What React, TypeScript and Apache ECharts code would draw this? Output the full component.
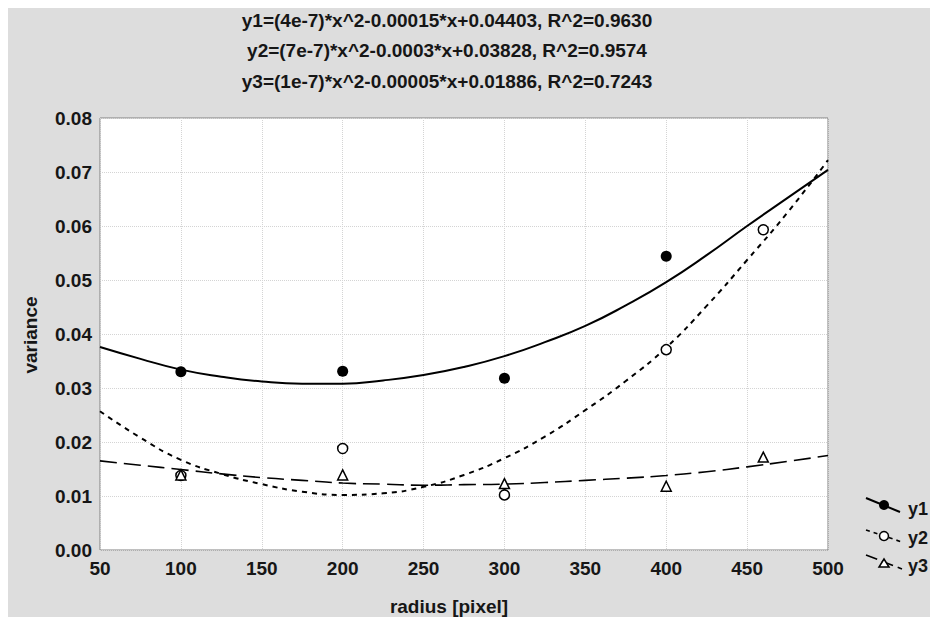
import React, { useEffect, useRef } from "react";
import * as echarts from "echarts";

// Fitted curves (x = 50..500, every 25)
const curveX = [50, 75, 100, 125, 150, 175, 200, 225, 250, 275, 300, 325, 350, 375, 400, 425, 450, 475, 500];
const fit1 = [0.0376, 0.0354, 0.0334, 0.0321, 0.0312, 0.0308, 0.0308, 0.0314, 0.0324, 0.0339, 0.0359, 0.0385, 0.0415, 0.0453, 0.0496, 0.0546, 0.06, 0.0652, 0.0704];
const fit2 = [0.0257, 0.0208, 0.0167, 0.0141, 0.0122, 0.0108, 0.0102, 0.0105, 0.0117, 0.0139, 0.017, 0.021, 0.0259, 0.0313, 0.0375, 0.0452, 0.0537, 0.0625, 0.0722];
const fit3 = [0.0165, 0.0157, 0.0149, 0.0141, 0.0134, 0.0129, 0.0124, 0.0122, 0.012, 0.0121, 0.0122, 0.0125, 0.0129, 0.0133, 0.0138, 0.0145, 0.0154, 0.0164, 0.0175];

// Measured points
const p1x = [100, 200, 300, 400];
const p1y = [0.033, 0.0331, 0.0318, 0.0544];
const p2x = [100, 200, 300, 400, 460];
const p2y = [0.0138, 0.0188, 0.0102, 0.0371, 0.0593];
const p3x = [100, 200, 300, 400, 460];
const p3y = [0.0139, 0.0139, 0.0123, 0.0118, 0.0172];

const titleLines = [
  "y1=(4e-7)*x^2-0.00015*x+0.04403, R^2=0.9630",
  "y2=(7e-7)*x^2-0.0003*x+0.03828, R^2=0.9574",
  "y3=(1e-7)*x^2-0.00005*x+0.01886, R^2=0.7243",
];
const seriesNames = ["y1", "y2", "y3"];
const xName = "radius [pixel]";
const yName = "variance";

const FONT = "Liberation Sans, Arial, sans-serif";
const TXT = "#161616";

const zip = (xs: number[], ys: number[]) => xs.map((x, i) => [x, ys[i]]);

export default function App() {
  const ref = useRef<HTMLDivElement>(null);
  useEffect(() => {
    if (!ref.current) return;
    document.documentElement.style.overflow = "hidden";
    document.body.style.overflow = "hidden";
    const chart = echarts.init(ref.current, undefined, { renderer: "svg" });
    const lineBase = { type: "line", smooth: true, showSymbol: false, silent: true, z: 2 };
    const legendFont = `bold 18px ${FONT}`;
    const option: any = {
      animation: false,
      backgroundColor: "#dddddd",
      grid: {
        left: 92,
        right: 110,
        top: 110,
        bottom: 67,
        show: true,
        backgroundColor: "#ffffff",
        borderColor: "#808080",
        borderWidth: 1,
      },
      xAxis: {
        type: "value",
        min: 50,
        max: 500,
        interval: 50,
        axisLine: { show: false },
        axisTick: { show: false },
        axisLabel: { color: TXT, fontFamily: FONT, fontSize: 19, fontWeight: "bold", margin: 9 },
        splitLine: { show: true, lineStyle: { color: "#d4d4d4", type: "dotted", width: 1 } },
      },
      yAxis: {
        type: "value",
        min: 0,
        max: 0.08,
        interval: 0.01,
        axisLine: { show: false },
        axisTick: { show: false },
        axisLabel: {
          color: TXT,
          fontFamily: FONT,
          fontSize: 19,
          fontWeight: "bold",
          margin: 8,
          formatter: (v: number) => v.toFixed(2),
        },
        splitLine: { show: true, lineStyle: { color: "#d4d4d4", type: "dotted", width: 1 } },
      },
      graphic: [
        ...titleLines.map((t, i) => ({
          type: "text",
          x: 439,
          y: 12 + i * 30.5,
          style: {
            text: t,
            fill: TXT,
            font: `bold 19px ${FONT}`,
            textAlign: "center",
            textVerticalAlign: "middle",
          },
        })),
        {
          type: "text",
          x: 441,
          y: 598,
          style: { text: xName, fill: TXT, font: `bold 19px ${FONT}`, textAlign: "center", textVerticalAlign: "middle" },
        },
        {
          type: "text",
          x: 22,
          y: 327,
          rotation: Math.PI / 2,
          style: { text: yName, fill: TXT, font: `bold 19px ${FONT}`, textAlign: "center", textVerticalAlign: "middle" },
        },
        // legend
        { type: "line", shape: { x1: 858, y1: 490, x2: 892, y2: 504 }, style: { stroke: "#000", lineWidth: 2 } },
        { type: "circle", shape: { cx: 876, cy: 497, r: 5 }, style: { fill: "#000" } },
        { type: "text", x: 900, y: 501, style: { text: seriesNames[0], fill: TXT, font: legendFont, textVerticalAlign: "middle" } },
        { type: "line", shape: { x1: 858, y1: 522, x2: 894, y2: 534 }, style: { stroke: "#000", lineWidth: 1.6, lineDash: [4, 4] } },
        { type: "circle", shape: { cx: 876, cy: 528, r: 4.5 }, style: { fill: "#fff", stroke: "#000", lineWidth: 1.5 } },
        { type: "text", x: 900, y: 530, style: { text: seriesNames[1], fill: TXT, font: legendFont, textVerticalAlign: "middle" } },
        { type: "line", shape: { x1: 858, y1: 547, x2: 894, y2: 561 }, style: { stroke: "#000", lineWidth: 1.6, lineDash: [12, 5] } },
        {
          type: "polygon",
          shape: { points: [[876, 551], [881, 559], [871, 559]] },
          style: { fill: "#fff", stroke: "#000", lineWidth: 1.5 },
        },
        { type: "text", x: 900, y: 558, style: { text: seriesNames[2], fill: TXT, font: legendFont, textVerticalAlign: "middle" } },
      ],
      series: [
        { ...lineBase, name: "fit1", data: zip(curveX, fit1), lineStyle: { color: "#000", width: 2, type: "solid" } },
        { ...lineBase, name: "fit2", data: zip(curveX, fit2), lineStyle: { color: "#000", width: 2, type: [5, 5] } },
        { ...lineBase, name: "fit3", data: zip(curveX, fit3), lineStyle: { color: "#000", width: 1.6, type: [17, 7] } },
        {
          type: "scatter",
          name: seriesNames[0],
          data: zip(p1x, p1y),
          symbol: "circle",
          symbolSize: 11,
          itemStyle: { color: "#000", opacity: 1 },
          z: 3,
        },
        {
          type: "scatter",
          name: seriesNames[1],
          data: zip(p2x, p2y),
          symbol: "circle",
          symbolSize: 10,
          itemStyle: { color: "#fff", borderColor: "#000", borderWidth: 1.5, opacity: 1 },
          z: 3,
        },
        {
          type: "scatter",
          name: seriesNames[2],
          data: zip(p3x, p3y),
          symbol: "triangle",
          symbolSize: 10,
          itemStyle: { color: "#fff", borderColor: "#000", borderWidth: 1.5, opacity: 1 },
          z: 3,
        },
      ],
    };
    chart.setOption(option);
    return () => chart.dispose();
  }, []);
  return <div ref={ref} style={{ width: 930, height: 609, overflow: "hidden" }} />;
}
